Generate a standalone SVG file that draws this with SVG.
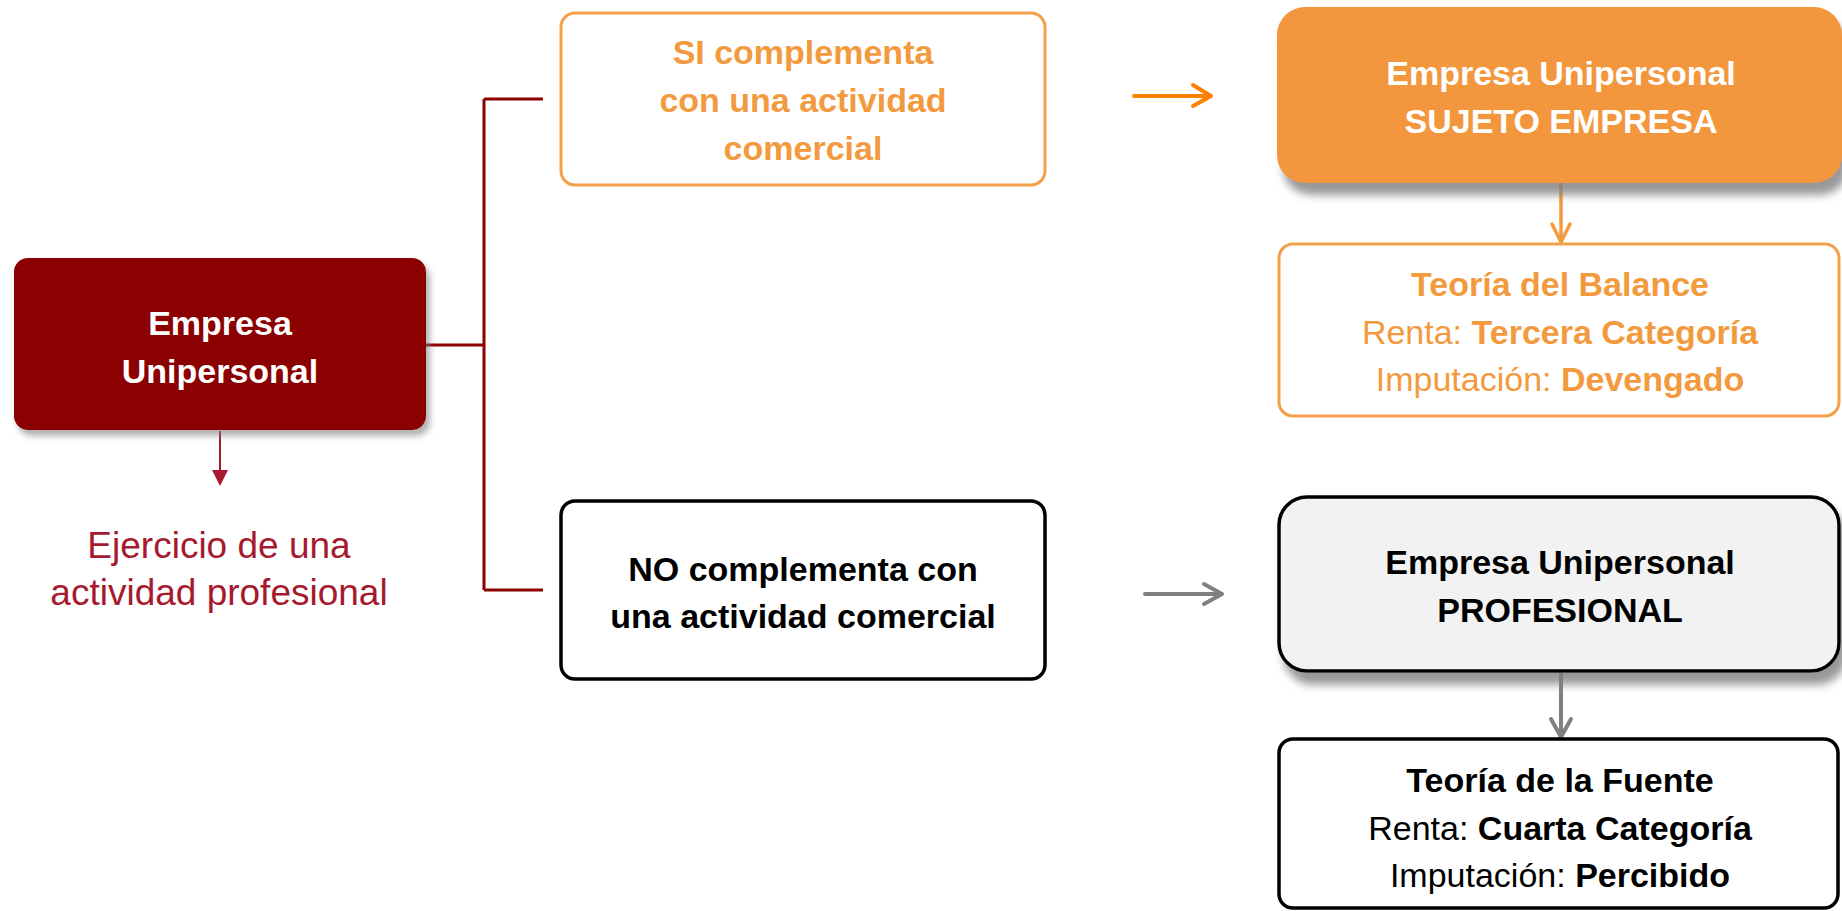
<svg xmlns="http://www.w3.org/2000/svg" width="1842" height="911" viewBox="0 0 1842 911">
<defs>
<filter id="sh" x="-10%" y="-20%" width="130%" height="150%">
<feDropShadow dx="6" dy="12" stdDeviation="4" flood-color="#7f7f7f" flood-opacity="0.8"/>
</filter>
<filter id="sh2" x="-10%" y="-20%" width="130%" height="150%">
<feDropShadow dx="4" dy="6" stdDeviation="3" flood-color="#7f7f7f" flood-opacity="0.6"/>
</filter>
</defs>
<style>
text{font-family:"Liberation Sans",Arial,sans-serif;font-size:34px;text-anchor:middle}
.b{font-weight:bold}
.w{fill:#ffffff}
.o{fill:#F29A3D}
.k{fill:#000000}
.cr{fill:#A6192E;font-size:37px}
.arr{fill:none;stroke-linecap:round;stroke-linejoin:round}
</style>
<g id="connectors">
<path d="M426 345 H484 M484 99 V590 M484 99 H543 M484 590 H543" fill="none" stroke="#8B0000" stroke-width="3"/>
<path d="M220 431 V472" stroke="#A6192E" stroke-width="2"/>
<polygon points="212,470 228,470 220,486" fill="#A6192E"/>
<path d="M1134 96 H1210" class="arr" stroke="#FF8000" stroke-width="4"/>
<path d="M1193 85 L1211 96 L1193 106" class="arr" stroke="#FF8000" stroke-width="4"/>
<path d="M1145 594 H1221" class="arr" stroke="#808080" stroke-width="4"/>
<path d="M1204 584 L1222 594 L1204 604" class="arr" stroke="#808080" stroke-width="4"/>
<path d="M1561 184 V241" class="arr" stroke="#F39A3E" stroke-width="3.5"/>
<path d="M1552 224 L1561 242 L1570 224" class="arr" stroke="#F39A3E" stroke-width="3.5"/>
<path d="M1561 673 V736" class="arr" stroke="#808080" stroke-width="4"/>
<path d="M1551 719 L1561 737 L1571 719" class="arr" stroke="#808080" stroke-width="4"/>
</g>
<g id="n-empresa">
<rect x="14" y="258" width="412" height="172" rx="14" fill="#8B0000" filter="url(#sh2)"/>
<text x="220" y="335" class="b w">Empresa</text>
<text x="220" y="383" class="b w">Unipersonal</text>
</g>
<g id="n-ejercicio">
<text x="219" y="558" class="cr">Ejercicio de una</text>
<text x="219" y="605" class="cr">actividad profesional</text>
</g>
<g id="n-si">
<rect x="561" y="13" width="484" height="172" rx="14" fill="#ffffff" stroke="#F4A04A" stroke-width="3"/>
<text x="803" y="64" class="b o">SI complementa</text>
<text x="803" y="112" class="b o">con una actividad</text>
<text x="803" y="160" class="b o">comercial</text>
</g>
<g id="n-no">
<rect x="561" y="501" width="484" height="178" rx="14" fill="#ffffff" stroke="#000000" stroke-width="3.5"/>
<text x="803" y="581" class="b k">NO complementa con</text>
<text x="803" y="628" class="b k">una actividad comercial</text>
</g>
<g id="n-sujeto">
<rect x="1277" y="7" width="565" height="176" rx="28" fill="#F2973D" filter="url(#sh)"/>
<text x="1561" y="85" class="b w">Empresa Unipersonal</text>
<text x="1561" y="133" class="b w">SUJETO EMPRESA</text>
</g>
<g id="n-balance">
<rect x="1279" y="244" width="560" height="172" rx="14" fill="#ffffff" stroke="#F4A04A" stroke-width="3"/>
<text x="1560" y="296" class="b o">Teoría del Balance</text>
<text x="1560" y="344" class="o">Renta: <tspan class="b">Tercera Categoría</tspan></text>
<text x="1560" y="391" class="o">Imputación: <tspan class="b">Devengado</tspan></text>
</g>
<g id="n-profesional">
<rect x="1279" y="497" width="560" height="174" rx="28" fill="#F2F2F2" stroke="#000000" stroke-width="3.5" filter="url(#sh)"/>
<text x="1560" y="574" class="b k">Empresa Unipersonal</text>
<text x="1560" y="622" class="b k">PROFESIONAL</text>
</g>
<g id="n-fuente">
<rect x="1279" y="739" width="559" height="169" rx="14" fill="#ffffff" stroke="#000000" stroke-width="3.5"/>
<text x="1560" y="792" class="b k">Teoría de la Fuente</text>
<text x="1560" y="840" class="k">Renta: <tspan class="b">Cuarta Categoría</tspan></text>
<text x="1560" y="887" class="k">Imputación: <tspan class="b">Percibido</tspan></text>
</g>
</svg>
